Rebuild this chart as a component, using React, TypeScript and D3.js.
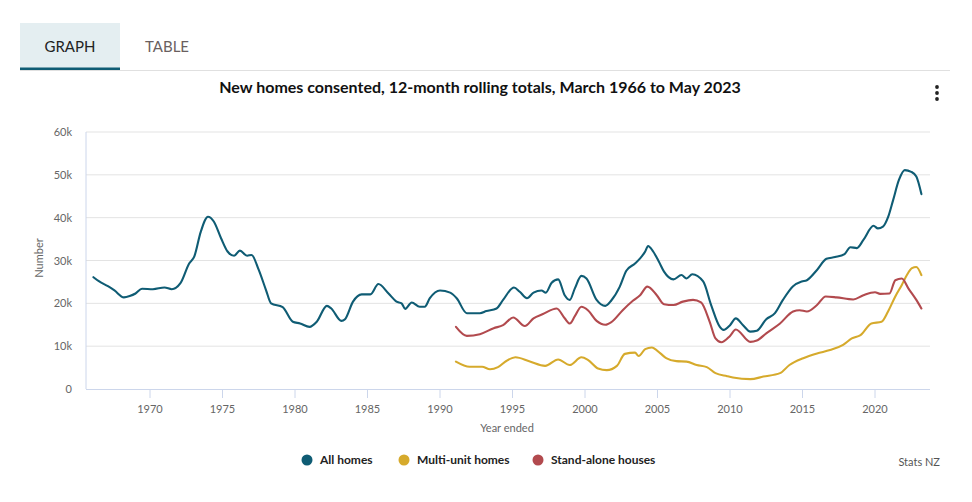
import React from "react";
import * as d3 from "d3";

const allYears = [1966.1,1966.5,1967.1,1967.55,1968.2,1968.6,1969.0,1969.45,1970.2,1971.0,1971.5,1972.1,1972.7,1973.05,1973.5,1974.0,1974.4,1974.9,1975.35,1975.8,1976.2,1976.7,1977.0,1977.5,1978.0,1978.35,1979.15,1979.85,1980.35,1981.0,1981.5,1982.2,1982.5,1983.2,1983.45,1984.0,1984.6,1985.2,1985.75,1986.45,1987.0,1987.35,1987.6,1988.05,1988.6,1988.95,1989.3,1990.0,1990.7,1991.15,1991.85,1992.75,1993.2,1993.9,1994.35,1995.1,1995.5,1996.0,1996.45,1997.0,1997.3,1997.7,1998.15,1998.6,1998.95,1999.3,1999.75,2000.1,2000.8,2001.4,2001.8,2002.4,2002.85,2003.45,2003.8,2004.15,2004.35,2004.7,2005.1,2005.45,2006.1,2006.65,2007.0,2007.4,2008.15,2008.7,2009.3,2009.55,2010.0,2010.4,2010.9,2011.4,2011.85,2012.5,2013.1,2013.65,2014.35,2014.95,2015.3,2016.0,2016.65,2017.25,2017.9,2018.3,2018.75,2019.2,2019.9,2020.2,2020.55,2020.9,2021.25,2021.65,2022.05,2022.5,2022.85,2023.2];
const allHomes = [26100,25100,24000,23000,21400,21700,22300,23400,23300,23700,23300,24700,29300,30900,36700,40200,39100,35200,32100,31100,32300,31100,31300,27800,23100,20000,19100,15700,15300,14500,15700,19400,18800,15900,16300,20400,22100,22100,24500,22300,20400,20000,18700,20200,19200,19200,21200,23000,22500,21200,17700,17700,18200,18800,20800,23700,22700,21200,22500,23000,22500,24800,25600,21900,20800,23500,26400,25800,20800,19400,20600,23900,27600,29300,30500,32100,33400,32100,29700,27400,25600,26600,25800,26800,25100,19600,14500,13800,14900,16500,14900,13400,13600,16300,17700,20800,24000,25100,25400,27800,30400,30800,31500,33100,32900,34800,38100,37500,37900,40100,44100,48800,51100,50700,49600,45500];

const multiYears = [1991.1,1992.05,1992.9,1993.45,1994.0,1994.6,1995.2,1996.2,1997.25,1998.15,1998.95,1999.75,2000.2,2000.9,2001.5,2002.2,2002.75,2003.45,2003.7,2004.15,2004.6,2005.2,2005.6,2006.3,2007.0,2007.7,2008.4,2009.0,2009.8,2010.2,2011.4,2012.3,2013.45,2014.1,2015.05,2016.0,2016.9,2017.8,2018.4,2019.0,2019.75,2020.45,2020.9,2021.4,2021.85,2022.2,2022.55,2022.85,2023.2];
const multiUnit = [6400,5200,5200,4600,5100,6600,7400,6400,5400,6900,5600,7400,6800,4800,4400,5400,8200,8500,7700,9300,9700,8300,7200,6500,6400,5600,5100,3700,3000,2700,2300,2900,3700,5600,7200,8300,9100,10300,11800,12600,15300,15700,18100,21600,24300,26600,28200,28500,26600];

const standYears = [1991.1,1991.85,1992.75,1993.7,1994.35,1995.05,1995.85,1996.45,1997.1,1998.05,1998.6,1998.95,1999.3,1999.75,2000.2,2000.8,2001.4,2001.85,2002.6,2003.3,2003.8,2004.3,2004.95,2005.45,2006.1,2006.75,2007.45,2008.0,2008.6,2009.0,2009.4,2010.0,2010.4,2011.4,2011.85,2012.5,2013.45,2014.35,2014.8,2015.3,2016.0,2016.6,2017.35,2018.5,2019.2,2020.0,2020.35,2021.0,2021.4,2021.85,2022.3,2022.85,2023.2];
const standAlone = [14500,12400,12800,14200,14900,16700,14700,16500,17500,18800,16500,15300,17000,19200,18400,15900,15000,15700,18400,20600,21900,23900,21900,19800,19600,20400,20800,20200,15700,11800,10900,12400,13900,11000,11300,13000,15300,18100,18400,18100,19600,21600,21400,20900,21900,22600,22200,22300,25400,25800,23500,20800,18800];

const xTicks = [1970,1975,1980,1985,1990,1995,2000,2005,2010,2015,2020];
const yTicks = [0,10000,20000,30000,40000,50000,60000];

const seriesNames = ["All homes","Multi-unit homes","Stand-alone houses"];
const seriesColors = ["#0f5c74","#d6aa2c","#b24a4e"];

const FONT = "Lato, 'Open Sans', sans-serif";

export default function App() {
  const left = 86, right = 930, top = 132, bottom = 389;
  const x = d3.scaleLinear().domain([1965.586, 2023.793]).range([left, right]);
  const y = d3.scaleLinear().domain([0, 60000]).range([bottom, top]);
  const line = d3.line<[number, number]>().x(d => x(d[0])).y(d => y(d[1])).curve(d3.curveMonotoneX);
  const series = [
    d3.zip(allYears, allHomes) as [number, number][],
    d3.zip(multiYears, multiUnit) as [number, number][],
    d3.zip(standYears, standAlone) as [number, number][],
  ];
  const fmt = (v: number) => (v === 0 ? "0" : `${v / 1000}k`);
  const legendX = [307, 404, 538];

  return (
    <svg width={972} height={502} style={{ position: "absolute", left: 0, top: 0, display: "block", background: "#fff" }} fontFamily={FONT}>
      {/* tabs */}
      <rect x={20} y={23} width={100} height={46} fill="#e4eef1" />
      <line x1={20} x2={950} y1={70.5} y2={70.5} stroke="#e0e0e0" strokeWidth={1} />
      <rect x={20} y={67.5} width={100} height={2.5} fill="#0f5c74" />
      <text x={70} y={52} textAnchor="middle" fontSize={15} fill="#222">GRAPH</text>
      <text x={167} y={52} textAnchor="middle" fontSize={15} fill="#6a5f60">TABLE</text>

      {/* title */}
      <text x={480} y={93} textAnchor="middle" fontSize={16} fontWeight="bold" fill="#111">New homes consented, 12-month rolling totals, March 1966 to May 2023</text>

      {/* menu dots */}
      {[87, 93, 99].map((cy) => (
        <circle key={cy} cx={937} cy={cy} r={1.9} fill="#222" />
      ))}

      {/* gridlines */}
      {yTicks.filter(t => t > 0).map(t => (
        <line key={t} x1={left} x2={right} y1={y(t)} y2={y(t)} stroke="#e3e3e3" strokeWidth={1} />
      ))}
      {/* axes */}
      <line x1={left} x2={left} y1={top} y2={bottom} stroke="#ccd6eb" strokeWidth={1} />
      <line x1={left} x2={right} y1={bottom + 0.5} y2={bottom + 0.5} stroke="#ccd6eb" strokeWidth={1} />
      {xTicks.map(t => (
        <g key={t}>
          <line x1={x(t)} x2={x(t)} y1={bottom} y2={bottom + 9} stroke="#ccd6eb" strokeWidth={1} />
          <text x={x(t)} y={413} textAnchor="middle" fontSize={11} fill="#666">{t}</text>
        </g>
      ))}
      {yTicks.map(t => (
        <text key={t} x={72} y={y(t) + 4} textAnchor="end" fontSize={11} fill="#666">{fmt(t)}</text>
      ))}
      <text transform="translate(43,258) rotate(-90)" textAnchor="middle" fontSize={11} fill="#666">Number</text>
      <text x={507} y={432} textAnchor="middle" fontSize={11} fill="#666">Year ended</text>

      {/* lines */}
      {series.map((s, i) => (
        <path key={i} d={line(s) || ""} fill="none" stroke={seriesColors[i]} strokeWidth={2.1} strokeLinejoin="round" strokeLinecap="round" />
      ))}

      {/* legend */}
      {seriesNames.map((n, i) => (
        <g key={n}>
          <circle cx={legendX[i]} cy={460} r={5.5} fill={seriesColors[i]} />
          <text x={legendX[i] + 13} y={464} fontSize={12} fontWeight="bold" fill="#222">{n}</text>
        </g>
      ))}
      <text x={940} y={466} textAnchor="end" fontSize={11} fill="#555">Stats NZ</text>
    </svg>
  );
}
